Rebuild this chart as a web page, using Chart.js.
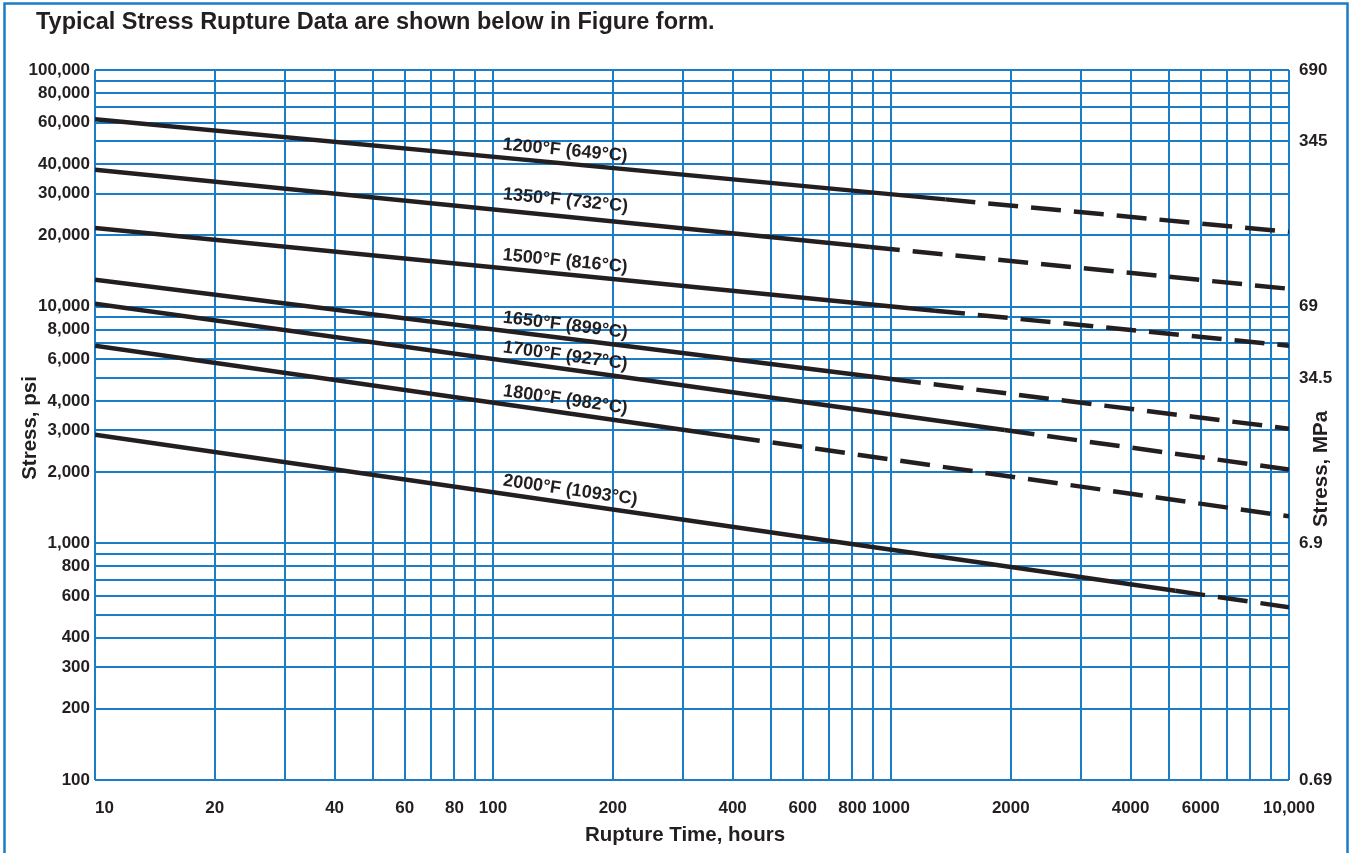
<!DOCTYPE html>
<html>
<head>
<meta charset="utf-8">
<script src="https://cdn.jsdelivr.net/npm/chart.js@4.4.0/dist/chart.umd.min.js"></script>
<style>
  body { margin: 0; background: #fff; }
  canvas { display: block; }
</style>
</head>
<body>
<canvas id="rupture" width="1351" height="853"></canvas>
<script>
// rupture time (hours) and stress (psi); middle point = end of the solid part
const seriesLabels = ['1200°F (649°C)', '1350°F (732°C)', '1500°F (816°C)', '1650°F (899°C)',
                      '1700°F (927°C)', '1800°F (982°C)', '2000°F (1093°C)'];
const hours1200 = [10, 1370, 10000];  const psi1200 = [62000, 28400, 20700];
const hours1350 = [10, 885, 10000];   const psi1350 = [37900, 17870, 11900];
const hours1500 = [10, 1290, 10000];  const psi1500 = [21500, 9620, 6840];
const hours1650 = [10, 1000, 10000];  const psi1650 = [13000, 4950, 3050];
const hours1700 = [10, 1930, 10000];  const psi1700 = [10300, 3010, 2050];
const hours1800 = [10, 394, 10000];   const psi1800 = [6840, 2830, 1300];
const hours2000 = [10, 5180, 10000];  const psi2000 = [2880, 630, 537];

const xTickValues = [10, 20, 40, 60, 80, 100, 200, 400, 600, 800, 1000, 2000, 4000, 6000, 10000];
const xTickLabels = ['    10', '20', '40', '60', '80', '100', '200', '400', '600', '800', '1000', '2000', '4000', '6000', '10,000'];
const yTickValues = [100, 200, 300, 400, 600, 800, 1000, 2000, 3000, 4000, 6000, 8000, 10000, 20000, 30000, 40000, 60000, 80000, 100000];
const yTickLabels = ['100', '200', '300', '400', '600', '800', '1,000', '2,000', '3,000', '4,000', '6,000', '8,000',
                     '10,000', '20,000', '30,000', '40,000', '60,000', '80,000', '100,000'];
const mpaTickValues = [100, 1000, 5000, 10000, 50000, 100000];
const mpaTickLabels = ['0.69', '6.9', '34.5', '69', '345', '690'];

const BLUE = '#1b7dc7';
const INK = '#231f20';
const FONT = "'Liberation Sans', Arial, sans-serif";

const allHours = [hours1200, hours1350, hours1500, hours1650, hours1700, hours1800, hours2000];
const allPsi = [psi1200, psi1350, psi1500, psi1650, psi1700, psi1800, psi2000];

function logGrid(lo, hi) {
  const out = [];
  for (let d = lo; d < hi; d *= 10) {
    for (let m = 1; m < 10; m++) out.push(m * d);
  }
  out.push(hi);
  return out;
}

function labelFor(values, labels, v) {
  const i = values.findIndex(t => Math.abs(t - v) / t < 1e-6);
  return i >= 0 ? labels[i] : '';
}

const datasets = allHours.map((h, i) => ({
  label: seriesLabels[i],
  data: h.map((x, j) => ({ x: x, y: allPsi[i][j] })),
  borderColor: INK,
  borderWidth: 4.5,
  pointRadius: 0,
  tension: 0,
  borderCapStyle: 'butt',
  segment: {
    borderDash: ctx => ctx.p0DataIndex >= 1 ? [30, 13] : undefined
  }
}));

const chrome = {
  id: 'chrome',
  beforeDraw(chart) {
    const c = chart.ctx;
    c.save();
    c.fillStyle = '#fff';
    c.fillRect(0, 0, chart.width, chart.height);
    c.strokeStyle = BLUE;
    c.lineWidth = 2.5;
    c.strokeRect(4.5, 3.5, 1343, 900);
    c.restore();
  },
  afterDatasetsDraw(chart) {
    const c = chart.ctx;
    const xs = chart.scales.x;
    const startPx = xs.getPixelForValue(105);
    c.save();
    c.fillStyle = INK;
    c.font = 'bold 18px ' + FONT;
    c.textAlign = 'left';
    c.textBaseline = 'alphabetic';
    chart.data.datasets.forEach((ds, i) => {
      const pts = chart.getDatasetMeta(i).data;
      const a = pts[0], b = pts[pts.length - 1];
      const ang = Math.atan2(b.y - a.y, b.x - a.x);
      const yOn = a.y + (startPx - a.x) * Math.tan(ang);
      c.save();
      c.translate(startPx, yOn);
      c.rotate(ang);
      c.fillText(ds.label, 0, i === 1 ? -11 : -8);
      c.restore();
    });
    c.restore();
  },
  afterDraw(chart) {
    const c = chart.ctx;
    c.save();
    c.fillStyle = INK;
    c.font = 'bold 23.5px ' + FONT;
    c.textAlign = 'left';
    c.textBaseline = 'middle';
    c.fillText('Typical Stress Rupture Data are shown below in Figure form.', 36, 23);

    c.font = 'bold 20.5px ' + FONT;
    c.textAlign = 'center';
    c.fillText('Rupture Time, hours', 685, 835);

    c.save();
    c.translate(30, 428);
    c.rotate(-Math.PI / 2);
    c.fillText('Stress, psi', 0, 0);
    c.restore();

    c.save();
    c.translate(1321, 469);
    c.rotate(-Math.PI / 2);
    c.fillText('Stress, MPa', 0, 0);
    c.restore();
    c.restore();
  }
};

new Chart(document.getElementById('rupture'), {
  type: 'line',
  data: { datasets: datasets },
  plugins: [chrome],
  options: {
    responsive: false,
    animation: false,
    layout: { padding: { top: 70, left: 0, right: 0, bottom: 0 } },
    plugins: { legend: { display: false }, tooltip: { enabled: false } },
    scales: {
      x: {
        type: 'logarithmic',
        min: 10, max: 10000,
        afterBuildTicks: s => { s.ticks = logGrid(10, 10000).map(v => ({ value: v })); },
        afterFit: s => { s.height = 73; },
        grid: { color: BLUE, lineWidth: 2, drawTicks: false },
        border: { display: false },
        ticks: {
          autoSkip: false, maxRotation: 0, padding: 18, color: INK,
          font: { family: FONT, size: 17, weight: 'bold' },
          callback: v => labelFor(xTickValues, xTickLabels, v)
        }
      },
      y: {
        type: 'logarithmic',
        position: 'left',
        min: 100, max: 100000,
        afterBuildTicks: s => { s.ticks = logGrid(100, 100000).map(v => ({ value: v })); },
        afterFit: s => { s.width = 95; },
        grid: { color: BLUE, lineWidth: 2, drawTicks: false },
        border: { display: false },
        ticks: {
          autoSkip: false, padding: 5, color: INK,
          font: { family: FONT, size: 17, weight: 'bold' },
          callback: v => labelFor(yTickValues, yTickLabels, v)
        }
      },
      mpa: {
        type: 'logarithmic',
        position: 'right',
        min: 100, max: 100000,
        afterBuildTicks: s => { s.ticks = mpaTickValues.map(v => ({ value: v })); },
        afterFit: s => { s.width = 62; },
        grid: { display: false, drawTicks: false },
        border: { display: false },
        ticks: {
          autoSkip: false, padding: 10, color: INK,
          font: { family: FONT, size: 17, weight: 'bold' },
          callback: v => labelFor(mpaTickValues, mpaTickLabels, v)
        }
      }
    }
  }
});
</script>
</body>
</html>
